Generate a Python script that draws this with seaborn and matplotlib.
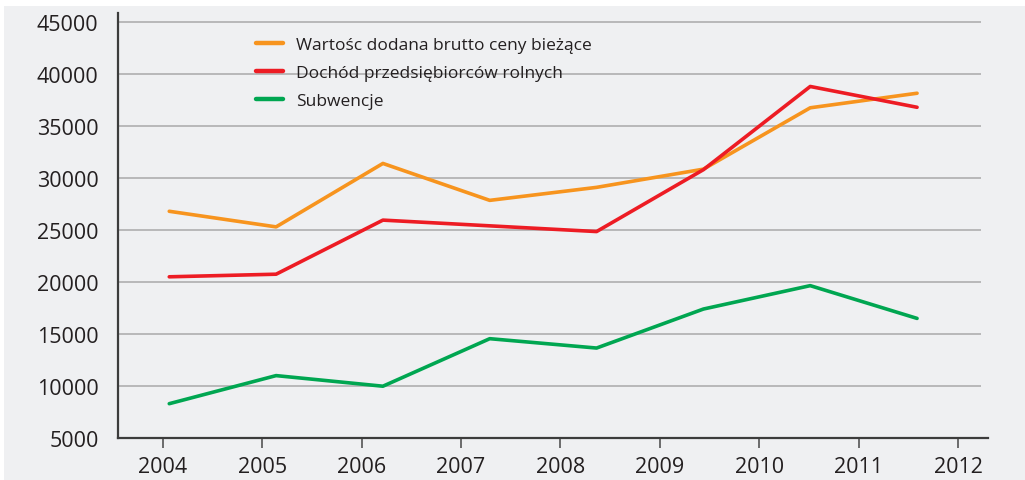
import numpy as np
import pandas as pd
import seaborn as sns
import matplotlib.pyplot as plt
from matplotlib.patches import Rectangle

# data
years = [2004, 2005, 2006, 2007, 2008, 2009, 2010, 2011]
axis_years = list(range(2004, 2013))
wartosc = [26800, 25300, 31400, 27850, 29100, 30850, 36750, 38150]
dochod = [20500, 20750, 25950, 25400, 24850, 30800, 38800, 36800]
subwencje = [8300, 11000, 9980, 14550, 13650, 17400, 19650, 16500]
series_names = ['Wartośc dodana brutto ceny bieżące',
                'Dochód przedsiębiorców rolnych',
                'Subwencje']
y_ticks = list(range(5000, 45001, 5000))

colors = ['#F7941E', '#ED1C24', '#00A651']
bg = '#EFF0F2'
grid_col = '#B4B4B4'
dark = '#231F20'

rows = []
for name, vals in zip(series_names, [wartosc, dochod, subwencje]):
    for i, (yr, v) in enumerate(zip(years, vals)):
        rows.append({'idx': i, 'year': yr, 'value': v, 'series': name})
df = pd.DataFrame(rows)

sns.set_style('white')
plt.rcParams['font.family'] = ['Open Sans', 'DejaVu Sans']

fig = plt.figure(figsize=(10.25, 4.81), dpi=100)
fig.patch.set_facecolor('white')
fig.patches.append(Rectangle((4 / 1025, 0), 1, 474 / 481, transform=fig.transFigure,
                             facecolor=bg, edgecolor='none', zorder=-1))

ax = fig.add_axes([0.1151, 0.0873, 0.8488, 0.8836])
ax.set_facecolor(bg)
ax.set_xlim(2003.55, 2012.30)
ax.set_xticks(axis_years)
ax.set_ylim(5000, 45865)
ax.set_yticks(y_ticks)
ax.hlines(y_ticks[1:], 0, 0.992, transform=ax.get_yaxis_transform(),
          colors=grid_col, lw=1.3, zorder=0)
for s in ['top', 'right']:
    ax.spines[s].set_visible(False)
for s in ['left', 'bottom']:
    ax.spines[s].set_color('#3C3C3C')
    ax.spines[s].set_linewidth(1.6)
ax.tick_params(axis='y', length=5, width=1.2, color=grid_col, pad=9,
               labelsize=15.5, labelcolor=dark)
ax.tick_params(axis='x', length=7, width=1.2, color='#555555', pad=6,
               labelsize=15.5, labelcolor=dark)

# lines sit on their own category scale, offset from the year ticks
ax2 = ax.twiny()
ax2.set_xlim(-0.48, 7.664)
sns.lineplot(data=df, x='idx', y='value', hue='series', palette=colors,
             lw=2.6, ax=ax2)
ax2.set_xticks([])
ax2.set_xlabel('')
for s in ax2.spines.values():
    s.set_visible(False)

leg = ax2.legend(loc='upper left', bbox_to_anchor=(0.159, 0.944), frameon=False,
                 fontsize=12.5, handlelength=1.55, handletextpad=0.72,
                 labelspacing=0.68, borderpad=0, borderaxespad=0)
for t in leg.get_texts():
    t.set_color(dark)
for h in leg.get_lines():
    h.set_linewidth(3.2)

fig.savefig('out.png', dpi=100, facecolor=fig.get_facecolor())
